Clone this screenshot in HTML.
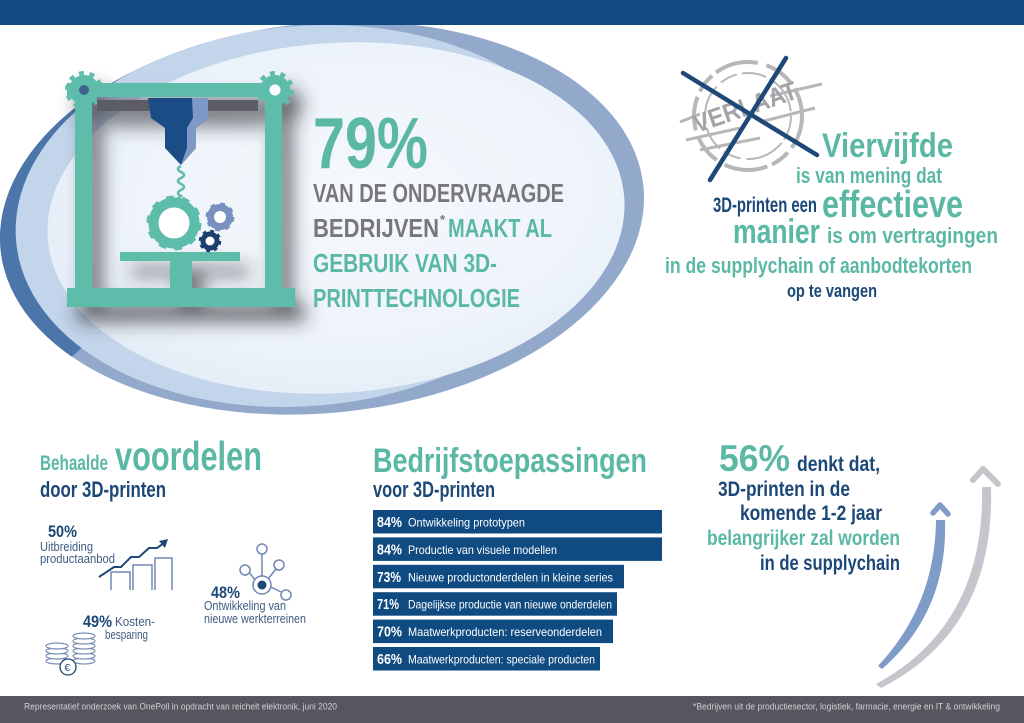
<!DOCTYPE html>
<html>
<head>
<meta charset="utf-8">
<style>
html,body{margin:0;padding:0;background:#fff;}
svg{display:block;}
.h{font-family:'Liberation Sans Narrow','Liberation Sans',sans-serif;font-weight:700;}
.r{font-family:'Liberation Sans',sans-serif;}
</style>
</head>
<body>
<svg width="1024" height="723" viewBox="0 0 1024 723" xmlns="http://www.w3.org/2000/svg">
<defs>
  <clipPath id="oc"><ellipse cx="322" cy="218" rx="323" ry="195" transform="rotate(-5.6 322 218)"/></clipPath>
  <radialGradient id="pg" cx="0.55" cy="0.45" r="0.62">
    <stop offset="0" stop-color="#f6f9fd"/>
    <stop offset="0.7" stop-color="#edf3fa"/>
    <stop offset="1" stop-color="#e2ebf6"/>
  </radialGradient>
  <filter id="sh" x="-30%" y="-30%" width="170%" height="170%">
    <feDropShadow dx="10" dy="15" stdDeviation="9" flood-color="#2b2b33" flood-opacity="0.68"/>
  </filter>
</defs>

<rect width="1024" height="723" fill="#ffffff"/>

<!-- Ellipse background -->
<g clip-path="url(#oc)">
  <rect x="0" y="0" width="660" height="430" fill="#93a9cc"/>
  <polygon points="0,0 250,0 190,60 110,140 70,260 85,345 0,420" fill="#4c76aa"/>
  <ellipse cx="305" cy="216" rx="290" ry="190" transform="rotate(-5 305 216)" fill="#c3d5eb"/>
  <ellipse cx="336" cy="218" rx="289" ry="175" transform="rotate(-4 336 218)" fill="url(#pg)"/>
</g>

<!-- top band -->
<rect x="0" y="0" width="1024" height="25" fill="#114a80"/>

<!-- Printer -->
<g filter="url(#sh)">
  <rect x="75" y="80" width="17" height="215" fill="#5dbcaa"/>
  <rect x="265" y="80" width="17" height="215" fill="#5dbcaa"/>
  <rect x="67" y="83" width="223" height="14" fill="#5dbcaa"/>
  <circle cx="84" cy="90" r="15" fill="#5dbcaa"/>
  <circle cx="84" cy="90" r="17" fill="none" stroke="#5dbcaa" stroke-width="4" stroke-dasharray="5 5.7"/>
  <circle cx="275" cy="90" r="15" fill="#5dbcaa"/>
  <circle cx="275" cy="90" r="17" fill="none" stroke="#5dbcaa" stroke-width="4" stroke-dasharray="5 5.7"/>
  <rect x="97" y="100" width="161" height="11" fill="#5c5b66"/>
  <rect x="120" y="252" width="120" height="9" fill="#5dbcaa"/>
  <rect x="170" y="260" width="22" height="30" fill="#5dbcaa"/>
  <rect x="67" y="288" width="228" height="19" fill="#5dbcaa"/>
</g>
<circle cx="84" cy="90" r="5" fill="#40618f"/>
<circle cx="275" cy="90" r="5.5" fill="#ffffff"/>

<!-- nozzle -->
<path d="M148,98 H208 V118 L196,128 V148 L181,165 L165,148 V128 L151,118 Z" fill="#1a4d86"/>
<path d="M192,98 H208 V118 L196,128 V148 L181,165 L187,148 V128 L193,118 Z" fill="#7f99c6"/>
<!-- spring -->
<path d="M181,166 q-6,3 0,6 q6,3 0,6 q-6,3 0,6 q6,3 0,6 q-6,3 0,6 L176,200" fill="none" stroke="#5dbcaa" stroke-width="2.5"/>

<!-- gears -->
<circle cx="174" cy="223" r="16" fill="#ffffff"/>
<g fill="none" stroke="#5dbcaa">
  <circle cx="174" cy="223" r="20.5" stroke-width="10"/>
  <circle cx="174" cy="223" r="24" stroke-width="7" stroke-dasharray="7 8.08"/>
</g>
<circle cx="220" cy="217" r="6.5" fill="#ffffff"/>
<g fill="none" stroke="#7891c0">
  <circle cx="220" cy="217" r="9.5" stroke-width="7"/>
  <circle cx="220" cy="217" r="12.5" stroke-width="4" stroke-dasharray="4.5 5.3"/>
</g>
<circle cx="210" cy="241" r="4.5" fill="#ffffff"/>
<g fill="none" stroke="#1c3e6d">
  <circle cx="210" cy="241" r="7" stroke-width="5"/>
  <circle cx="210" cy="241" r="9.5" stroke-width="3.5" stroke-dasharray="3.5 3.96"/>
</g>

<!-- 79% text block -->
<text class="h" x="313" y="168" font-size="72" fill="#5ab8a5" textLength="115" lengthAdjust="spacingAndGlyphs">79%</text>
<text class="h" x="313" y="202" font-size="26" fill="#77777d" textLength="251" lengthAdjust="spacingAndGlyphs">VAN DE ONDERVRAAGDE</text>
<text class="h" x="313" y="237" font-size="26" fill="#77777d" textLength="126" lengthAdjust="spacingAndGlyphs">BEDRIJVEN</text>
<text class="h" x="440" y="224" font-size="13" fill="#77777d">*</text>
<text class="h" x="448" y="237" font-size="26" fill="#5ab8a5" textLength="104" lengthAdjust="spacingAndGlyphs">MAAKT AL</text>
<text class="h" x="313" y="272" font-size="26" fill="#5ab8a5" textLength="184" lengthAdjust="spacingAndGlyphs">GEBRUIK VAN 3D-</text>
<text class="h" x="313" y="307" font-size="26" fill="#5ab8a5" textLength="207" lengthAdjust="spacingAndGlyphs">PRINTTECHNOLOGIE</text>

<!-- Stamp -->
<g fill="none" stroke="#ababaf" opacity="0.85">
  <circle cx="748" cy="116" r="54" stroke-width="4" stroke-dasharray="34 6 20 5 44 9 30 7"/>
  <circle cx="748" cy="116" r="43" stroke-width="2" stroke-dasharray="25 4 40 6 18 5"/>
  <path d="M680,122 L700,114 M770,96 L822,84 M686,140 L740,128 M760,122 L815,108 M700,150 L760,138" stroke-width="3"/>
</g>
<text class="h" x="697" y="133" font-size="26" fill="#a3a3a8" transform="rotate(-19 697 133)" textLength="108" lengthAdjust="spacingAndGlyphs">VERLAAT</text>
<g stroke="#1d4878" stroke-width="4.5" stroke-linecap="round">
  <line x1="683" y1="73" x2="817" y2="155"/>
  <line x1="786" y1="58" x2="710" y2="180"/>
</g>

<!-- Right top text -->
<text class="h" x="822" y="157" font-size="34" fill="#5ab8a5" textLength="131" lengthAdjust="spacingAndGlyphs">Viervijfde</text>
<text class="h" x="796" y="183" font-size="22" fill="#5ab8a5" textLength="146" lengthAdjust="spacingAndGlyphs">is van mening dat</text>
<text class="h" x="713" y="212" font-size="21" fill="#1c4877" textLength="104" lengthAdjust="spacingAndGlyphs">3D-printen een</text>
<text class="h" x="822" y="217" font-size="38" fill="#5ab8a5" textLength="141" lengthAdjust="spacingAndGlyphs">effectieve</text>
<text class="h" x="733" y="243" font-size="34" fill="#5ab8a5" textLength="87" lengthAdjust="spacingAndGlyphs">manier</text>
<text class="h" x="827" y="243" font-size="22" fill="#5ab8a5" textLength="171" lengthAdjust="spacingAndGlyphs">is om vertragingen</text>
<text class="h" x="665" y="273" font-size="22" fill="#5ab8a5" textLength="307" lengthAdjust="spacingAndGlyphs">in de supplychain of aanbodtekorten</text>
<text class="h" x="787" y="297" font-size="18" fill="#1c4877" textLength="90" lengthAdjust="spacingAndGlyphs">op te vangen</text>

<!-- Bottom left: voordelen -->
<text class="h" x="40" y="470" font-size="21" fill="#5ab8a5" textLength="68" lengthAdjust="spacingAndGlyphs">Behaalde</text>
<text class="h" x="115" y="470" font-size="41" fill="#5ab8a5" textLength="147" lengthAdjust="spacingAndGlyphs">voordelen</text>
<text class="h" x="40" y="497" font-size="22" fill="#1c4877" textLength="126" lengthAdjust="spacingAndGlyphs">door 3D-printen</text>

<text class="h" x="48" y="537" font-size="17" fill="#1c4877" textLength="29" lengthAdjust="spacingAndGlyphs">50%</text>
<text class="r" x="40" y="551" font-size="12.5" fill="#3f5b82" textLength="53" lengthAdjust="spacingAndGlyphs">Uitbreiding</text>
<text class="r" x="40" y="563" font-size="12.5" fill="#3f5b82" textLength="75" lengthAdjust="spacingAndGlyphs">productaanbod</text>
<g fill="none" stroke="#7088b3" stroke-width="1.5">
  <path d="M111,590 V572 H130 V590"/>
  <path d="M133,590 V565 H152 V590"/>
  <path d="M155,590 V558 H172 V590"/>
</g>
<polyline points="99,577 114,567 121,567 131,557 139,557 149,548 157,548 164,543" fill="none" stroke="#1d4878" stroke-width="2"/>
<polygon points="168,539 159,541 165,548" fill="#1d4878"/>

<!-- network icon -->
<g fill="none" stroke="#7088b3" stroke-width="1.5">
  <line x1="262" y1="553" x2="262" y2="576"/>
  <line x1="249" y1="572" x2="255" y2="580"/>
  <line x1="276" y1="569" x2="268" y2="579"/>
  <line x1="281" y1="592" x2="271" y2="587"/>
  <circle cx="262" cy="549" r="5" fill="#fff"/>
  <circle cx="245" cy="570" r="5" fill="#fff"/>
  <circle cx="279" cy="565" r="5" fill="#fff"/>
  <circle cx="286" cy="595" r="5" fill="#fff"/>
  <circle cx="262" cy="585" r="9" fill="#fff"/>
</g>
<circle cx="262" cy="585" r="4.5" fill="#1d4878"/>
<text class="h" x="211" y="598" font-size="17" fill="#1c4877" textLength="29" lengthAdjust="spacingAndGlyphs">48%</text>
<text class="r" x="204" y="610" font-size="12.5" fill="#3f5b82" textLength="82" lengthAdjust="spacingAndGlyphs">Ontwikkeling van</text>
<text class="r" x="204" y="623" font-size="12.5" fill="#3f5b82" textLength="102" lengthAdjust="spacingAndGlyphs">nieuwe werkterreinen</text>

<text class="h" x="83" y="627" font-size="17" fill="#1c4877" textLength="29" lengthAdjust="spacingAndGlyphs">49%</text>
<text class="r" x="115" y="626" font-size="12.5" fill="#3f5b82" textLength="40" lengthAdjust="spacingAndGlyphs">Kosten-</text>
<text class="r" x="105" y="639" font-size="12.5" fill="#3f5b82" textLength="43" lengthAdjust="spacingAndGlyphs">besparing</text>
<!-- coins -->
<g fill="#fff" stroke="#7d90b5" stroke-width="1.2">
  <ellipse cx="57" cy="661" rx="11" ry="3"/>
  <ellipse cx="57" cy="656" rx="11" ry="3"/>
  <ellipse cx="57" cy="651" rx="11" ry="3"/>
  <ellipse cx="57" cy="646" rx="11" ry="3"/>
  <ellipse cx="84" cy="661" rx="11" ry="3"/>
  <ellipse cx="84" cy="656" rx="11" ry="3"/>
  <ellipse cx="84" cy="651" rx="11" ry="3"/>
  <ellipse cx="84" cy="646" rx="11" ry="3"/>
  <ellipse cx="84" cy="641" rx="11" ry="3"/>
  <ellipse cx="84" cy="636" rx="11" ry="3"/>
</g>
<circle cx="68" cy="667" r="8" fill="#fff" stroke="#1d4878" stroke-width="1.3"/>
<text class="r" x="64.5" y="671" font-size="10" fill="#1d4878">€</text>

<!-- Bar chart -->
<text class="h" x="373" y="472" font-size="34" fill="#5ab8a5" textLength="274" lengthAdjust="spacingAndGlyphs">Bedrijfstoepassingen</text>
<text class="h" x="373" y="497" font-size="22" fill="#1c4877" textLength="122" lengthAdjust="spacingAndGlyphs">voor 3D-printen</text>

<g fill="#0f4a80">
  <rect x="373" y="510" width="289" height="23.5"/>
  <rect x="373" y="537.4" width="289" height="23.5"/>
  <rect x="373" y="564.8" width="251" height="23.5"/>
  <rect x="373" y="592.2" width="244" height="23.5"/>
  <rect x="373" y="619.6" width="240" height="23.5"/>
  <rect x="373" y="647" width="227" height="23.5"/>
</g>
<g fill="#ffffff">
  <text class="h" x="377" y="527" font-size="15" textLength="25" lengthAdjust="spacingAndGlyphs">84%</text>
  <text class="r" x="408" y="526.5" font-size="12" textLength="117" lengthAdjust="spacingAndGlyphs">Ontwikkeling prototypen</text>
  <text class="h" x="377" y="554.4" font-size="15" textLength="25" lengthAdjust="spacingAndGlyphs">84%</text>
  <text class="r" x="408" y="553.9" font-size="12" textLength="149" lengthAdjust="spacingAndGlyphs">Productie van visuele modellen</text>
  <text class="h" x="377" y="581.8" font-size="15" textLength="24" lengthAdjust="spacingAndGlyphs">73%</text>
  <text class="r" x="408" y="581.3" font-size="12" textLength="205" lengthAdjust="spacingAndGlyphs">Nieuwe productonderdelen in kleine series</text>
  <text class="h" x="377" y="609.2" font-size="15" textLength="22" lengthAdjust="spacingAndGlyphs">71%</text>
  <text class="r" x="408" y="608.7" font-size="12" textLength="204" lengthAdjust="spacingAndGlyphs">Dagelijkse productie van nieuwe onderdelen</text>
  <text class="h" x="377" y="636.6" font-size="15" textLength="25" lengthAdjust="spacingAndGlyphs">70%</text>
  <text class="r" x="408" y="636.1" font-size="12" textLength="194" lengthAdjust="spacingAndGlyphs">Maatwerkproducten: reserveonderdelen</text>
  <text class="h" x="377" y="664" font-size="15" textLength="25" lengthAdjust="spacingAndGlyphs">66%</text>
  <text class="r" x="408" y="663.5" font-size="12" textLength="187" lengthAdjust="spacingAndGlyphs">Maatwerkproducten: speciale producten</text>
</g>

<!-- Right bottom -->
<text class="h" x="719" y="471" font-size="37" fill="#5ab8a5" textLength="71" lengthAdjust="spacingAndGlyphs">56%</text>
<text class="h" x="797" y="471" font-size="21" fill="#1c4877" textLength="83" lengthAdjust="spacingAndGlyphs">denkt dat,</text>
<text class="h" x="718" y="496" font-size="21" fill="#1c4877" textLength="132" lengthAdjust="spacingAndGlyphs">3D-printen in de</text>
<text class="h" x="740" y="520" font-size="21" fill="#1c4877" textLength="142" lengthAdjust="spacingAndGlyphs">komende 1-2 jaar</text>
<text class="h" x="707" y="545" font-size="21" fill="#5ab8a5" textLength="193" lengthAdjust="spacingAndGlyphs">belangrijker zal worden</text>
<text class="h" x="760" y="570" font-size="21" fill="#1c4877" textLength="140" lengthAdjust="spacingAndGlyphs">in de supplychain</text>

<!-- arrows -->
<path d="M876,684 Q985,625 982,487 L991,487 Q995,630 881,688 Z" fill="#c4c6cc"/>
<polyline points="973,480 983,469 998,484" fill="none" stroke="#c4c6cc" stroke-width="6" stroke-linecap="round" stroke-linejoin="round"/>
<path d="M878,666 Q935,605 936,520 L945,520 Q948,612 882,669 Z" fill="#7f9cc8"/>
<polyline points="933,513 940,505 948,514" fill="none" stroke="#7f9cc8" stroke-width="5.5" stroke-linecap="round" stroke-linejoin="round"/>

<!-- footer -->
<rect x="0" y="696" width="1024" height="27" fill="#55565e"/>
<text class="r" x="24" y="709.5" font-size="9" fill="#d0d1d6" textLength="313" lengthAdjust="spacingAndGlyphs">Representatief onderzoek van OnePoll in opdracht van reichelt elektronik, juni 2020</text>
<text class="r" x="693" y="709.5" font-size="9" fill="#d0d1d6" textLength="307" lengthAdjust="spacingAndGlyphs">*Bedrijven uit de productiesector, logistiek, farmacie, energie en IT &amp; ontwikkeling</text>
</svg>
</body>
</html>
